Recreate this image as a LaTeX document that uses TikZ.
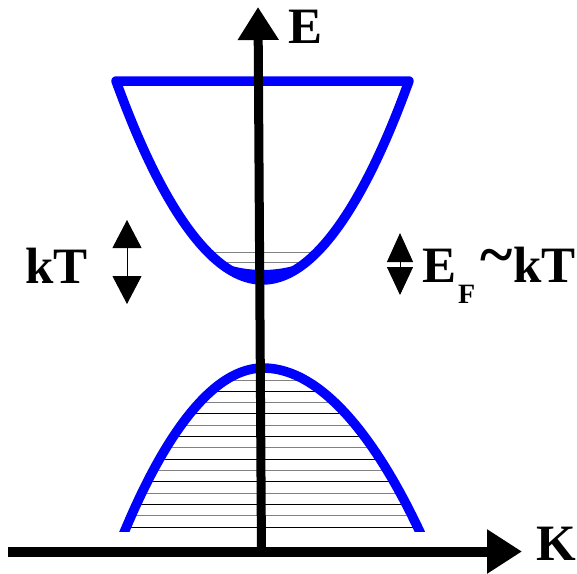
\documentclass[tikz,border=0pt]{standalone}
\usepackage{fontspec}
\setmainfont{Liberation Serif}
\usetikzlibrary{arrows.meta}
\definecolor{bandblue}{RGB}{0,0,255}
\begin{document}
\begin{tikzpicture}[x=1pt,y=-1pt,
  band/.style={draw=bandblue,line width=9.5pt,line join=round},
  hatchdark/.style={draw=black,line width=1pt},
  hatchgray/.style={draw=black!50,line width=1pt},
  axisline/.style={draw=black,line width=#1},
  bigtext/.style={inner sep=0pt,font=\fontsize{51}{51}\selectfont\bfseries},
  dblarrow/.style={draw=black,line width=1pt,{Triangle[length=#1,width=29pt]}-{Triangle[length=#1,width=29pt]}}
]
\useasboundingbox (0,0) rectangle (577,573);

% ---------- conduction band ----------
\begin{scope}
  \clip (116,81) parabola bend (262.5,280) (409,81) -- cycle;
  \draw[hatchgray] (100,252) -- (420,252);
  \draw[hatchgray] (100,262.5) -- (420,262.5);
  \fill[bandblue] (175,238) parabola bend (262.5,270) (350,238) -- (350,300) -- (175,300) -- cycle;
\end{scope}
\draw[band] (116,81) parabola bend (262.5,280) (409,81) -- cycle;

% ---------- valence band ----------
\begin{scope}
  \clip (126,528) parabola bend (263,368) (418,528) -- cycle;
  \foreach \yy in {380,402.62,425.24,447.86,470.48,493.1,515.72}
    \draw[hatchgray] (100,\yy) -- (440,\yy);
  \foreach \yy in {391.31,413.93,436.55,459.17,481.79,504.41,527.03}
    \draw[hatchdark] (100,\yy) -- (440,\yy);
\end{scope}
\begin{scope}
  \clip (0,0) rectangle (577,531);
  \draw[band] (121,540) parabola bend (263,368) (423.7,540);
\end{scope}

% ---------- axes ----------
\coordinate (Korigin) at (8,551.5);
\coordinate (Ktip) at (522,551.5);
\coordinate (Eorigin) at (261.5,556);
\coordinate (Etip) at (258,7);
\draw[axisline=10pt,-{Triangle[length=35pt,width=42pt]}] (Korigin) -- (Ktip);
\draw[axisline=9pt,-{Triangle[length=33pt,width=39pt]}] (Eorigin) -- (Etip);

\node[bigtext,anchor=base west] (Elabel) at (288,43) {E};
\node[bigtext,anchor=base west] (Klabel) at (536,560) {K};

% ---------- kT arrow ----------
\coordinate (kTtop) at (127,220);
\coordinate (kTbot) at (127,304);
\draw[dblarrow=28pt] (kTtop) -- (kTbot);
\node[bigtext,anchor=base west] (kTlabel) at (25,283) {kT};

% ---------- E_F ~ kT arrow ----------
\coordinate (EFtop) at (400,233);
\coordinate (EFbot) at (400,295);
\draw[draw=black,line width=1pt,{Triangle[length=29pt,width=26pt]}-{Triangle[length=28pt,width=26pt]}] (EFtop) -- (EFbot);
\node[bigtext,anchor=base west] (EFE) at (422,282) {E};
\node[inner sep=0pt,font=\fontsize{28}{28}\selectfont\bfseries,anchor=base west] (EFsub) at (458,303) {F};
\node[inner sep=0pt,font=\fontsize{62}{62}\selectfont\bfseries,anchor=base] (EFtilde) at (497,275) {\textasciitilde};
\node[bigtext,anchor=base west] (EFkT) at (513,282) {kT};
\end{tikzpicture}
\end{document}
